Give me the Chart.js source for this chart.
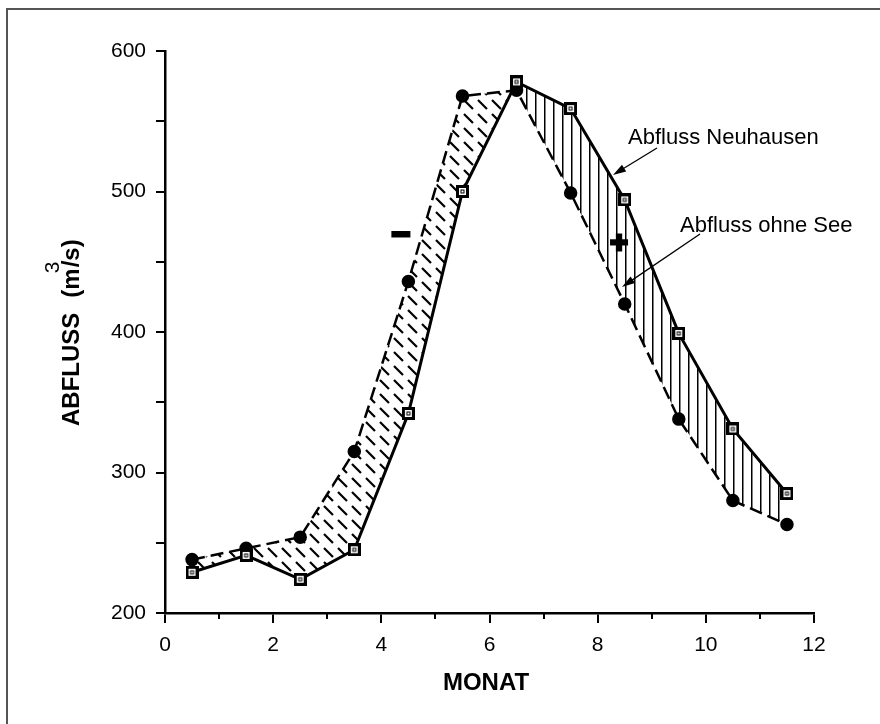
<!DOCTYPE html>
<html>
<head>
<meta charset="utf-8">
<script src="https://cdn.jsdelivr.net/npm/chart.js@4"></script>
<style>
  html, body { margin: 0; padding: 0; background: #fff; }
  #wrap { width: 880px; height: 724px; position: relative; }
</style>
</head>
<body>
<div id="wrap"><canvas id="chart" width="880" height="724"></canvas></div>
<script>
// === DATA ===
const months = [0.5, 1.5, 2.5, 3.5, 4.5, 5.5, 6.5, 7.5, 8.5, 9.5, 10.5, 11.5];
const neuhausen = [229, 241, 224, 245, 342, 500, 578, 559, 494, 399, 331, 285];
const ohneSee = [238, 246, 254, 315, 436, 568, 572, 499, 420, 338, 280, 263];
const xTicks = [0, 2, 4, 6, 8, 10, 12];
const xMinorTicks = [1, 3, 5, 7, 9, 11];
const yTickLabels = [200, 300, 400, 500, 600];

const FONT = "'Liberation Sans', Arial, Helvetica, sans-serif";

// hatch patterns for the areas between the two curves
function diagPattern() {
    const c = document.createElement("canvas");
    c.width = 14; c.height = 14;
    const g = c.getContext("2d");
    g.strokeStyle = "#000";
    g.lineWidth = 2.2;
    g.beginPath();
    g.moveTo(2, 2);
    g.lineTo(11, 11);
    g.stroke();
    return g.createPattern(c, "repeat");
}

function vertPattern() {
    const c = document.createElement("canvas");
    c.width = 9; c.height = 4;
    const g = c.getContext("2d");
    g.fillStyle = "#000";
    g.fillRect(4, 0, 1.5, 4);
    return g.createPattern(c, "repeat");
}

// square marker with small inner square
function squareMarker() {
    const c = document.createElement("canvas");
    c.width = 13; c.height = 13;
    const g = c.getContext("2d");
    g.fillStyle = "#000";
    g.fillRect(0, 0, 13, 13);
    g.fillStyle = "#fff";
    g.fillRect(3, 3, 7, 7);
    g.strokeStyle = "#000";
    g.lineWidth = 1;
    g.strokeRect(5, 5, 3, 3);
    return c;
}

function arrow(ctx, x1, y1, x2, y2) {
    const a = Math.atan2(y2 - y1, x2 - x1);
    const len = 13, w = 4;
    ctx.beginPath();
    ctx.moveTo(x1, y1);
    ctx.lineTo(x2 - Math.cos(a) * len * 0.8, y2 - Math.sin(a) * len * 0.8);
    ctx.lineWidth = 1.3;
    ctx.stroke();
    ctx.beginPath();
    ctx.moveTo(x2, y2);
    ctx.lineTo(x2 - Math.cos(a) * len + Math.sin(a) * w, y2 - Math.sin(a) * len - Math.cos(a) * w);
    ctx.lineTo(x2 - Math.cos(a) * len - Math.sin(a) * w, y2 - Math.sin(a) * len + Math.cos(a) * w);
    ctx.closePath();
    ctx.fill();
}

// === EXTRA DRAWING (frame, minor ticks, titles, notes) ===
const decorPlugin = {
    id: "decor",
    afterDraw(chart) {
        const ctx = chart.ctx;
        const xs = chart.scales.x;
        const area = chart.chartArea;
        ctx.save();

        // frame (top + left)
        ctx.strokeStyle = "#555";
        ctx.lineWidth = 2;
        ctx.beginPath();
        ctx.moveTo(880, 9);
        ctx.lineTo(7, 9);
        ctx.lineTo(7, 724);
        ctx.stroke();

        // minor x ticks
        ctx.strokeStyle = "#000";
        ctx.lineWidth = 2;
        xMinorTicks.forEach(v => {
            const px = Math.round(xs.getPixelForValue(v));
            ctx.beginPath();
            ctx.moveTo(px, area.bottom);
            ctx.lineTo(px, area.bottom + 6);
            ctx.stroke();
        });

        ctx.fillStyle = "#000";

        // x title
        ctx.font = "bold 24px " + FONT;
        ctx.textAlign = "center";
        ctx.textBaseline = "alphabetic";
        ctx.fillText("MONAT", 486, 690);

        // y title (rotated)
        ctx.save();
        ctx.translate(79, 426);
        ctx.rotate(-Math.PI / 2);
        ctx.textAlign = "left";
        ctx.font = "bold 24px " + FONT;
        ctx.fillText("ABFLUSS", 0, 0);
        let w = ctx.measureText("ABFLUSS").width + 15;
        ctx.fillText("(m", w, 0);
        w += ctx.measureText("(m").width;
        ctx.font = "21px " + FONT;
        ctx.fillText("3", w - 5, -20);
        w += 1;
        ctx.font = "bold 24px " + FONT;
        ctx.fillText("/s)", w, 0);
        ctx.restore();

        // notes
        ctx.textAlign = "left";
        ctx.font = "22px " + FONT;
        ctx.fillText("Abfluss Neuhausen", 628, 144);
        ctx.fillText("Abfluss ohne See", 680, 232);
        arrow(ctx, 657, 148, 613, 175);
        arrow(ctx, 700, 234, 622, 287);

        ctx.textAlign = "center";
        ctx.textBaseline = "middle";
        ctx.lineWidth = 3;
        ctx.strokeStyle = "#000";
        ctx.font = "bold 32px " + FONT;
        ctx.fillText("\u2212", 401, 236);
        ctx.strokeText("\u2212", 401, 236);
        ctx.font = "bold 30px " + FONT;
        ctx.fillText("+", 619, 244);
        ctx.strokeText("+", 619, 244);

        ctx.restore();
    }
};

const ctx = document.getElementById("chart");

new Chart(ctx, {
    type: "line",
    data: {
        datasets: [
            {
                label: "Abfluss Neuhausen",
                data: months.map((m, i) => ({ x: m, y: neuhausen[i] })),
                borderColor: "#000",
                borderWidth: 3,
                pointStyle: squareMarker(),
                pointRadius: 7,
                fill: false,
                tension: 0
            },
            {
                label: "Abfluss ohne See",
                data: months.map((m, i) => ({ x: m, y: ohneSee[i] })),
                borderColor: "#000",
                borderWidth: 2.5,
                borderDash: [13, 6],
                pointStyle: "circle",
                pointRadius: 5.5,
                pointBackgroundColor: "#000",
                pointBorderColor: "#000",
                fill: { target: 0, above: diagPattern(), below: vertPattern() },
                tension: 0
            }
        ]
    },
    options: {
        responsive: false,
        animation: false,
        events: [],
        layout: { padding: { top: 51, right: 66, left: 0, bottom: 0 } },
        plugins: {
            legend: { display: false },
            tooltip: { enabled: false }
        },
        scales: {
            x: {
                type: "linear",
                min: xTicks[0],
                max: xTicks[xTicks.length - 1],
                afterBuildTicks: s => { s.ticks = xTicks.map(v => ({ value: v })); },
                afterFit: s => { s.height = 111; },
                grid: { drawOnChartArea: false, color: "#000", lineWidth: 2, tickLength: 10 },
                border: { color: "#000", width: 2.5 },
                ticks: {
                    color: "#000",
                    padding: 10,
                    font: { family: FONT, size: 21 }
                }
            },
            y: {
                min: 200,
                max: 600,
                ticks: {
                    stepSize: 50,
                    color: "#000",
                    padding: 10,
                    font: { family: FONT, size: 21 },
                    callback: v => (yTickLabels.includes(v) ? v : "")
                },
                afterFit: s => { s.width = 165; },
                grid: { drawOnChartArea: false, color: "#000", lineWidth: 2, tickLength: 9 },
                border: { color: "#000", width: 2.5 }
            }
        }
    },
    plugins: [decorPlugin]
});
</script>
</body>
</html>
